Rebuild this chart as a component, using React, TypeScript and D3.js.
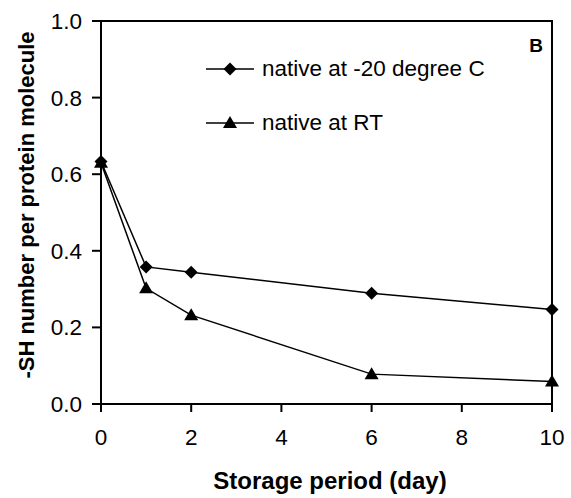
import React from "react";
import * as d3 from "d3";

const days = [0, 1, 2, 6, 10];
const frozenValues = [0.633, 0.358, 0.344, 0.289, 0.247];
const rtValues = [0.63, 0.302, 0.232, 0.078, 0.059];
const xTicks = [0, 2, 4, 6, 8, 10];
const yTicks = [0, 0.2, 0.4, 0.6, 0.8, 1.0];
const seriesNames = ["native at -20 degree C", "native at RT"];
const xTitle = "Storage period (day)";
const yTitle = "-SH number per protein molecule";
const panelLabel = "B";

const W = 571, H = 498;
const L = 101, R = 552, T = 21, B = 404;
const font = "'Liberation Sans', Arial, sans-serif";

export default function App() {
  const x = d3.scaleLinear().domain([0, 10]).range([L, R]);
  const y = d3.scaleLinear().domain([0, 1]).range([B, T]);
  const line = d3.line<number>().x((_, i) => x(days[i])).y((d) => y(d));
  const diamond = (cx: number, cy: number, r = 6.5) =>
    `M${cx},${cy - r}L${cx + r},${cy}L${cx},${cy + r}L${cx - r},${cy}Z`;
  const tri = (cx: number, cy: number) =>
    `M${cx},${cy - 7}L${cx + 7},${cy + 5}L${cx - 7},${cy + 5}Z`;

  return (
    <svg width={W} height={H} style={{ position: "absolute", left: 0, top: 0, background: "#fff" }}>
      <rect x={0} y={0} width={W} height={H} fill="#fff" />
      <rect x={L} y={T} width={R - L} height={B - T} fill="none" stroke="#000" strokeWidth={2} />
      {yTicks.map((t) => (
        <g key={"y" + t}>
          <line x1={L - 9} x2={L} y1={y(t)} y2={y(t)} stroke="#000" strokeWidth={2} />
          <text x={82} y={y(t) + 8} textAnchor="end" fontFamily={font} fontSize={22.5}>
            {t.toFixed(1)}
          </text>
        </g>
      ))}
      {xTicks.map((t) => (
        <g key={"x" + t}>
          <line x1={x(t)} x2={x(t)} y1={B} y2={B + 8} stroke="#000" strokeWidth={2} />
          <text x={x(t)} y={445} textAnchor="middle" fontFamily={font} fontSize={22.5}>
            {t}
          </text>
        </g>
      ))}
      <text x={330} y={489} textAnchor="middle" fontFamily={font} fontSize={24} fontWeight="bold">
        {xTitle}
      </text>
      <text
        transform={`translate(34,205) rotate(-90)`}
        textAnchor="middle"
        fontFamily={font}
        fontSize={22}
        fontWeight="bold"
      >
        {yTitle}
      </text>
      <text x={543} y={52} textAnchor="end" fontFamily={font} fontSize={19} fontWeight="bold">
        {panelLabel}
      </text>
      <path d={line(frozenValues) || ""} fill="none" stroke="#000" strokeWidth={1.5} />
      <path d={line(rtValues) || ""} fill="none" stroke="#000" strokeWidth={1.5} />
      {frozenValues.map((v, i) => (
        <path key={"d" + i} d={diamond(x(days[i]), y(v))} fill="#000" />
      ))}
      {rtValues.map((v, i) => (
        <path key={"t" + i} d={tri(x(days[i]), y(v))} fill="#000" />
      ))}
      {seriesNames.map((name, i) => {
        const ly = 69 + i * 54;
        return (
          <g key={name}>
            <line x1={206} x2={254} y1={ly} y2={ly} stroke="#000" strokeWidth={1.5} />
            {i === 0 ? <path d={diamond(230, ly)} fill="#000" /> : <path d={tri(230, ly)} fill="#000" />}
            <text x={262} y={ly + 7} fontFamily={font} fontSize={22.5}>
              {name}
            </text>
          </g>
        );
      })}
    </svg>
  );
}
